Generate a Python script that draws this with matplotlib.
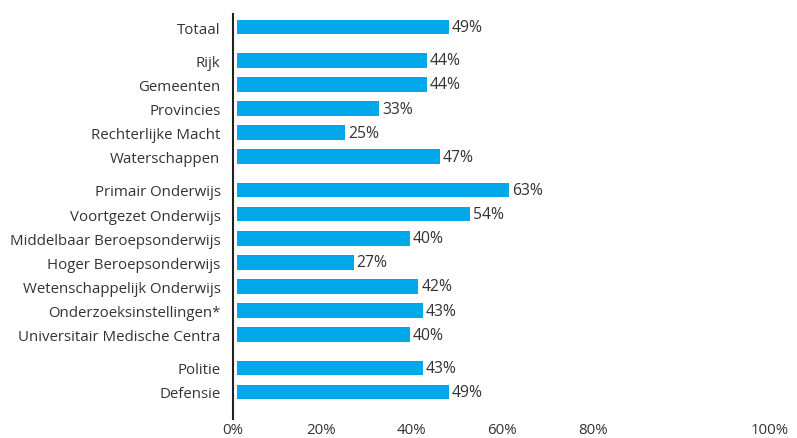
import numpy as np
import matplotlib.pyplot as plt

plt.rcParams['font.family'] = ['Open Sans', 'DejaVu Sans']

# data
groups = [
    ['Totaal'],
    ['Rijk', 'Gemeenten', 'Provincies', 'Rechterlijke Macht', 'Waterschappen'],
    ['Primair Onderwijs', 'Voortgezet Onderwijs', 'Middelbaar Beroepsonderwijs',
     'Hoger Beroepsonderwijs', 'Wetenschappelijk Onderwijs',
     'Onderzoeksinstellingen*', 'Universitair Medische Centra'],
    ['Politie', 'Defensie'],
]
waarden = [49,
           44, 44, 33, 25, 47,
           63, 54, 40, 27, 42, 43, 40,
           43, 49]
tick_labels = ['0%', '20%', '40%', '60%', '80%', '100%']

# layout: rows with a little extra space between groups
gap = 0.38
ypos = []
y = 0.0
for gi, g in enumerate(groups):
    if gi > 0:
        y += gap
    for _ in g:
        ypos.append(y)
        y += 1
ypos = np.array(ypos)
namen = [n for g in groups for n in g]

W, H = 797, 439
fig = plt.figure(figsize=(W / 100, H / 100), dpi=100)
ax = fig.add_axes([233 / W, 19 / H, (790 - 233) / W, (420 - 15) / H])

kleur = '#02a8ea'
tekst = '#333333'
ax.barh(ypos, waarden, height=0.61, color=kleur)
for yy, v in zip(ypos, waarden):
    ax.text(v + 0.7, yy, '%d%%' % v, va='center', ha='left', fontsize=11.3, color=tekst)

ax.set_ylim(ypos[-1] + 1.12, -0.54)
ax.set_xlim(0, 557 / 4.35)
ax.set_yticks(ypos)
ax.set_yticklabels(namen, fontsize=10.8, color=tekst)
# the tick labels in the original sit a bit off the bar scale
ax.set_xticks([-0.9, 19.6, 40.4, 61.4, 82.4, 123.3])
ax.set_xticklabels(tick_labels, fontsize=10.8, color=tekst)
ax.tick_params(axis='both', length=0)
ax.tick_params(axis='y', pad=9)
ax.tick_params(axis='x', pad=2)

for s in ['top', 'right', 'bottom']:
    ax.spines[s].set_visible(False)
ax.spines['left'].set_color('#222222')
ax.spines['left'].set_linewidth(1.5)

plt.savefig('out.png', dpi=100)
